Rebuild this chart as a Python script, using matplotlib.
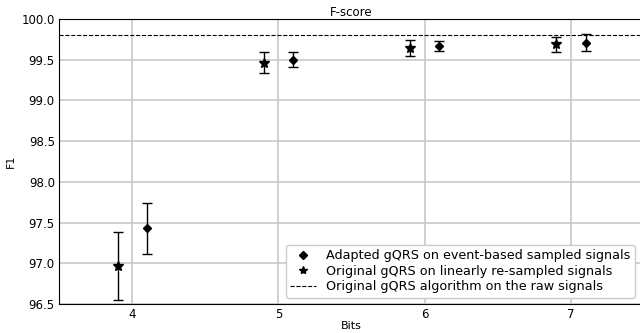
import numpy as np
import matplotlib.pyplot as plt
from matplotlib.lines import Line2D

# bits and scores
bits = [4, 5, 6, 7]
adapted_f1 = [97.43, 99.50, 99.67, 99.71]
adapted_lo = [97.12, 99.41, 99.61, 99.61]
adapted_hi = [97.74, 99.60, 99.73, 99.81]
original_f1 = [96.97, 99.46, 99.64, 99.69]
original_lo = [96.55, 99.34, 99.55, 99.60]
original_hi = [97.39, 99.59, 99.74, 99.78]
raw_f1 = 99.80

bits = np.array(bits)
a = np.array(adapted_f1)
o = np.array(original_f1)
a_err = [a - np.array(adapted_lo), np.array(adapted_hi) - a]
o_err = [o - np.array(original_lo), np.array(original_hi) - o]

fig = plt.figure(figsize=(6.4, 3.33), dpi=100)
ax = fig.add_axes([59 / 640, 1 - 304 / 333, (644 - 59) / 640, (304 - 19) / 333])

ax.errorbar(bits + 0.1, a, yerr=a_err, fmt='D', color='black', ms=4,
            capsize=3.5, elinewidth=1, capthick=1)
ax.errorbar(bits - 0.1, o, yerr=o_err, fmt='*', color='black', ms=7,
            capsize=3.5, elinewidth=1, capthick=1)
ax.axhline(raw_f1, color='black', ls='--', lw=0.8)

ax.set_xlim(3.5, 7.5)
ax.set_ylim(96.5, 100.0)
ax.set_xticks(bits)
ax.set_yticks(np.arange(96.5, 100.01, 0.5))
ax.set_yticklabels([f'{v:.1f}' for v in np.arange(96.5, 100.01, 0.5)])
ax.grid(True, color='#c8c8c8', lw=1.2)
ax.set_axisbelow(True)
ax.tick_params(labelsize=8.5, length=0, pad=3)
ax.set_xlabel('Bits', fontsize=8, labelpad=0)
ax.set_ylabel('F1', fontsize=8)
ax.set_title('F-score', fontsize=8.5, pad=2)

handles = [
    Line2D([], [], marker='D', color='black', ls='none', ms=4),
    Line2D([], [], marker='*', color='black', ls='none', ms=6),
    Line2D([], [], color='black', ls='--', lw=0.8),
]
labels = [
    'Adapted gQRS on event-based sampled signals',
    'Original gQRS on linearly re-sampled signals',
    'Original gQRS algorithm on the raw signals',
]
ax.legend(handles, labels, loc='lower right', bbox_to_anchor=(0.995, 0.0),
          fontsize=9.2, handlelength=2, borderaxespad=0.5, framealpha=1,
          labelspacing=0.2, borderpad=0.35)

fig.savefig('out.png', dpi=100)
